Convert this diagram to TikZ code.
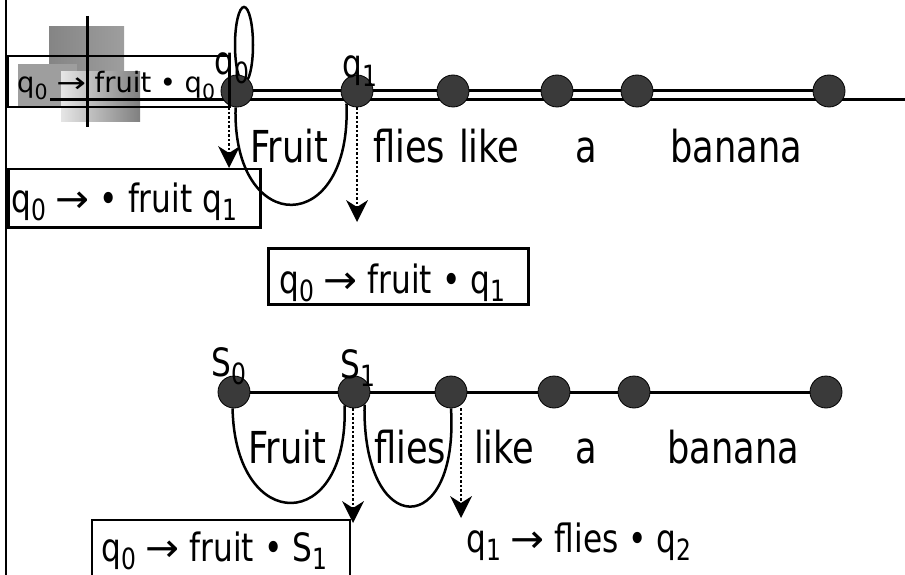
\documentclass[tikz,border=0pt]{standalone}
\usepackage{fontspec}
\setmainfont{DejaVu Sans}[FakeStretch=0.8]
\usetikzlibrary{arrows.meta}
\pgfdeclarelayer{icon}
\pgfdeclarelayer{bg}
\pgfsetlayers{icon,bg,main}
\definecolor{dotgray}{HTML}{3A3A3A}
\newcommand\sbs[1]{\raisebox{-0.22em}{\scalebox{0.75}{#1}}}
\newcommand\ar{\scalebox{1.3}[1]{→}}
\tikzset{
  dotnode/.style={circle, minimum size=32pt, inner sep=0pt, fill=dotgray, draw=black, line width=0.8pt},
  rail/.style={line width=3pt},
  frame/.style={draw, line width=2.5pt, inner sep=0pt, anchor=north west},
  word/.style={anchor=base west, inner sep=0pt, font=\fontsize{44}{44}\selectfont},
  rule/.style={anchor=base west, inner sep=0pt, font=\fontsize{39}{39}\selectfont},
  arc/.style={line width=2.5pt},
  darrow/.style={line width=2.6pt, dash pattern=on 2.5pt off 2pt,
    -{Stealth[length=22pt,width=22pt,inset=7pt,line width=0pt]}},
}
\begin{document}
\begin{tikzpicture}[x=1pt,y=-1pt]
\useasboundingbox (0,0) rectangle (905,575);

% decorative icon
\begin{pgfonlayer}{icon}
  \shade[left color=black!48, right color=black!38] (49,27) rectangle (124,78);
  \fill[black!38] (18,64) rectangle (77,108);
  \shade[left color=black!10, right color=black!50] (61,72) rectangle (140,122);
\end{pgfonlayer}

% left rule
\draw[line width=2.5pt] (6,0) -- (6,575);

% ---------- top row ----------
\node[dotnode] (a0) at (237,91) {};
\node[dotnode] (a1) at (357,91) {};
\node[dotnode] (a2) at (453,91) {};
\node[dotnode] (a3) at (557,91) {};
\node[dotnode] (a4) at (637,91) {};
\node[dotnode] (a5) at (829,91) {};
\coordinate (lowL) at (50,100);
\coordinate (lowR) at (905,100);

\node[frame, minimum width=222pt, minimum height=51pt] (tlbox) at (6,55) {};
\draw[line width=3pt] (87,16) -- (87,127);

\begin{pgfonlayer}{bg}
  \draw[rail] (a0.center) -- (a5.center);
  \draw[rail] (lowL) -- (lowR);
  \draw[arc] (244,45) ellipse [x radius=9, y radius=38];
  \draw[arc] (a0.-95) .. controls (232,238) and (352,238) .. (a1.-130);
\end{pgfonlayer}

\node[anchor=base west, inner sep=0pt] (tltext) at (17,93)
  {\scalebox{1.22}[1]{\fontsize{28}{28}\selectfont q\sbs{0} \ar{} fruit • q\sbs{0}}};

\node[rule] (lq0) at (214,75) {q\sbs{0}};
\node[rule] (lq1) at (342,78) {q\sbs{1}};

\node[word] (w1) at (250,163) {Fruit};
\node[word] (w2) at (373,163) {flies};
\node[word] (w3) at (459,163) {like};
\node[word] (w4) at (575,163) {a};
\node[word] (w5) at (670,163) {banana};

\coordinate (t0) at (229,168);
\coordinate (t1) at (357,222);
\draw[darrow] (a0.south -| t0) -- (t0);
\draw[darrow] (a1.south -| t1) -- (t1);

\node[frame, minimum width=252pt, minimum height=58pt] (box1) at (7,168) {};
\node[rule] (r1) at (11,212) {q\sbs{0} \ar{} • fruit q\sbs{1}};

\node[frame, minimum width=260pt, minimum height=56pt] (box2) at (267,247) {};
\node[rule] (r2) at (279,293) {q\sbs{0} \ar{} fruit • q\sbs{1}};

% ---------- bottom row ----------
\node[dotnode] (b0) at (234,392) {};
\node[dotnode] (b1) at (354,392) {};
\node[dotnode] (b2) at (451,392) {};
\node[dotnode] (b3) at (554,392) {};
\node[dotnode] (b4) at (634,392) {};
\node[dotnode] (b5) at (826,392) {};

\begin{pgfonlayer}{bg}
  \draw[rail] (b0.center) -- (b5.center);
  \draw[arc] (b0.-95) .. controls (235,535) and (349,535) .. (b1.-125);
  \draw[arc] (b1.-50) .. controls (362,540) and (459,540) .. (b2.-90);
\end{pgfonlayer}

\node[rule] (ls0) at (211,376) {S\sbs{0}};
\node[rule] (ls1) at (340,378) {S\sbs{1}};

\node[word] (v1) at (248,463) {Fruit};
\node[word] (v2) at (374,463) {flies};
\node[word] (v3) at (474,463) {like};
\node[word] (v4) at (575,463) {a};
\node[word] (v5) at (667,463) {banana};

\coordinate (t2) at (353,523);
\coordinate (t3) at (461,518);
\draw[darrow] (b1.south -| t2) -- (t2);
\draw[darrow] ([yshift=-16pt]b2.center -| t3) -- (t3);

\draw[line width=2.5pt] (92,575) -- (92,520) -- (350,520) -- (350,575);
\node[rule] (r3) at (101,561) {q\sbs{0} \ar{} fruit • S\sbs{1}};
\node[rule] (r4) at (466,552) {q\sbs{1} \ar{} flies • q\sbs{2}};
\end{tikzpicture}
\end{document}
